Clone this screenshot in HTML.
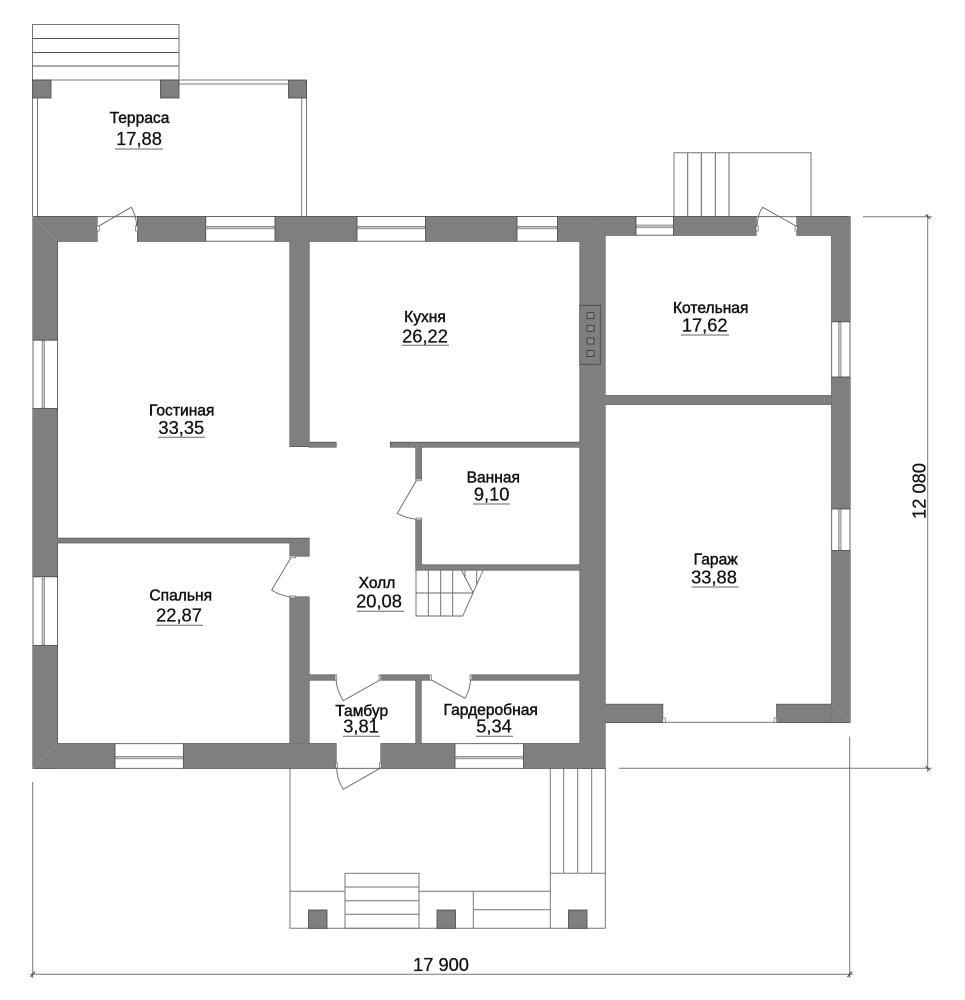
<!DOCTYPE html>
<html lang="ru">
<head>
<meta charset="utf-8">
<title>План этажа</title>
<style>
html,body{margin:0;padding:0;background:#fff;width:965px;height:1000px;overflow:hidden}
svg{display:block}
.t{font-family:"Liberation Sans",Arial,sans-serif;fill:#111;text-anchor:middle;stroke:#111}
.n{font-size:15.6px;stroke-width:.45px}
.a{font-size:18.3px;stroke-width:.25px}
.l{stroke:#555;stroke-width:1;fill:none}
.g{stroke:#777;stroke-width:1;fill:none}
.d{stroke:#666;stroke-width:.9;fill:none}
.u{stroke:#666;stroke-width:1}
.f{fill:#fff;stroke:#666;stroke-width:.7}
.win{fill:#fff;stroke:#444;stroke-width:.8}
.mul{fill:#c4c4c4;stroke:#777;stroke-width:.6}
.dg{stroke:#8e8e8e;stroke-width:.8}
</style>
</head>
<body>
<svg width="965" height="1000" viewBox="0 0 965 1000" xmlns="http://www.w3.org/2000/svg">
<rect width="965" height="1000" fill="#fff"/>

<!-- Terrace -->
<g class="g">
<rect x="32.5" y="24.5" width="146.5" height="55.5"/>
<path d="M32.5 38.5H179M32.5 52.5H179M32.5 66H179" stroke="#555"/>
<path d="M179 80H288M179 84H288"/>
<path d="M32.5 98V216M37.5 98V216M301.7 98V216M306.5 98V216"/>
</g>
<g fill="#7f7f7f" stroke="#444" stroke-width=".8">
<rect x="32.5" y="80" width="18.5" height="18"/>
<rect x="160.5" y="80" width="18.5" height="18"/>
<rect x="288.5" y="80" width="18" height="18"/>
</g>

<!-- Rear steps -->
<g class="g">
<path d="M674 216V152.7H811V216"/>
<path d="M687.7 152.7V216M701.3 152.7V216M715.3 152.7V216M729 152.7V216" stroke="#666"/>
</g>

<!-- Front porch -->
<g class="g">
<path d="M290 768V928.3H605.3V768"/>
<path d="M290 891.3H345M419 891.3H550"/>
<rect x="345" y="873.3" width="74" height="55"/>
<path d="M345 887H419M345 900.7H419M345 914.3H419"/>
<path d="M473.3 891.3V928.3M473.3 909.7H550"/>
<path d="M550.3 768V928.3M563.7 768V873.3M577.7 768V873.3M591.7 768V873.3M550.3 873.3H605.3"/>
</g>
<g fill="#7f7f7f" stroke="#444" stroke-width=".8">
<rect x="308.5" y="910" width="18.5" height="18.3"/>
<rect x="437" y="910" width="18.5" height="18.3"/>
<rect x="568.5" y="910" width="18.5" height="18.3"/>
</g>

<!-- Walls -->
<defs>
<g id="w">
<rect x="33" y="216.5" width="64" height="24.7"/>
<rect x="137.5" y="216.5" width="68.3" height="24.7"/>
<rect x="275" y="216.5" width="82" height="24.7"/>
<rect x="425.5" y="216.5" width="91.5" height="24.7"/>
<rect x="557.5" y="216.5" width="47.5" height="24.7"/>
<rect x="605" y="216.5" width="31" height="18.7"/>
<rect x="673.5" y="216.5" width="82.5" height="18.7"/>
<rect x="797" y="216.5" width="53" height="18.7"/>
<rect x="831.7" y="216.5" width="18.3" height="105.3"/>
<rect x="831.7" y="377" width="18.3" height="132"/>
<rect x="831.7" y="550.5" width="18.3" height="172"/>
<rect x="33" y="216.5" width="24.5" height="123.7"/>
<rect x="33" y="408.5" width="24.5" height="168.3"/>
<rect x="33" y="645.5" width="24.5" height="122.8"/>
<rect x="33" y="743.7" width="82" height="24.6"/>
<rect x="183.5" y="743.7" width="152.5" height="24.6"/>
<rect x="381" y="743.7" width="74" height="24.6"/>
<rect x="523.5" y="743.7" width="81.5" height="24.6"/>
<rect x="580" y="216.5" width="25" height="551.8"/>
<rect x="290" y="241" width="19" height="205.5"/>
<rect x="309" y="442.3" width="27" height="4.7"/>
<rect x="390.5" y="442.3" width="189.5" height="4.7"/>
<rect x="416" y="447" width="5.3" height="32.5"/>
<rect x="416" y="519.3" width="5.3" height="50.7"/>
<rect x="416" y="565" width="164" height="5"/>
<rect x="57.5" y="538.3" width="232.5" height="4.5"/>
<rect x="290" y="538.3" width="19" height="17.7"/>
<rect x="290" y="597" width="19" height="146.7"/>
<rect x="309" y="675" width="27" height="5"/>
<rect x="380" y="675" width="50" height="5"/>
<rect x="471" y="675" width="109" height="5"/>
<rect x="416" y="680" width="5" height="63.7"/>
<rect x="605" y="395.7" width="226.7" height="8.6"/>
<rect x="605" y="704.3" width="57.7" height="18.2"/>
<rect x="776.7" y="704.3" width="55" height="18.2"/>
</g>
</defs>
<use href="#w" fill="#3a3a3a" stroke="#3a3a3a" stroke-width="1"/>
<use href="#w" fill="#7f7f7f"/>

<!-- Corner mitres -->
<g class="dg">
<path d="M33 216.5L57.5 241.2"/>
<path d="M33 768.3L57.5 743.7"/>
<path d="M605 216.5L580 241.2"/>
<path d="M605 768.3L580 743.7"/>
<path d="M850 216.5L831.7 235.2"/>
<path d="M850 722.5L831.7 704.3"/>
</g>

<!-- Windows horizontal -->
<g>
<rect class="win" x="205.8" y="216.5" width="69.2" height="24.7"/>
<rect class="mul" x="207" y="226.3" width="67" height="2.6"/>
<rect class="win" x="357" y="216.5" width="68.5" height="24.7"/>
<rect class="mul" x="358" y="226.3" width="66.5" height="2.6"/>
<rect class="win" x="517" y="216.5" width="40.5" height="24.7"/>
<rect class="mul" x="518" y="226.3" width="38.5" height="2.6"/>
<rect class="win" x="636" y="216.5" width="37.5" height="18.7"/>
<rect class="mul" x="636.5" y="225" width="36.5" height="2.6"/>
<rect class="win" x="115" y="743.7" width="68.5" height="24.6"/>
<rect class="mul" x="116" y="756.3" width="66.5" height="2.6"/>
<rect class="win" x="455" y="743.7" width="68.5" height="24.6"/>
<rect class="mul" x="456" y="756.3" width="66.5" height="2.6"/>
</g>
<!-- Windows vertical -->
<g>
<rect class="win" x="33" y="340.2" width="24.5" height="68.3"/>
<rect class="mul" x="42" y="341" width="2.6" height="66.5"/>
<rect class="win" x="33" y="576.8" width="24.5" height="68.7"/>
<rect class="mul" x="42" y="578" width="2.6" height="66.5"/>
<rect class="win" x="831.7" y="321.8" width="18.3" height="55.2"/>
<rect class="mul" x="838.5" y="322.5" width="2.6" height="54"/>
<rect class="win" x="831.7" y="509" width="18.3" height="41.5"/>
<rect class="mul" x="838.5" y="510" width="2.6" height="40"/>
</g>

<!-- Chimney -->
<rect x="579.7" y="305.3" width="20.6" height="59" fill="#7f7f7f" stroke="#444" stroke-width=".8"/>
<g fill="#8a8a8a" stroke="#333" stroke-width=".8">
<rect x="587" y="312.7" width="7" height="5.8"/>
<rect x="587" y="325.3" width="7" height="6"/>
<rect x="587" y="338" width="7" height="6"/>
<rect x="587" y="350.5" width="7" height="6"/>
</g>

<!-- Doors -->
<g class="d">
<path d="M97.7 226.7L131 207.3Q136 214 136.7 226.7"/>
<path d="M97 216.7H137.5" stroke="#555"/>
<path d="M796 226L762.7 207.3Q757.5 214 757 226"/>
<path d="M756 216.7H797" stroke="#555"/>
<path d="M416.7 480L397.3 513.3Q405 518 416 519.3"/>
<path d="M290.7 558L271.7 590Q279 595 290 597"/>
<path d="M380 680L343.3 700.7Q337 691 336 680"/>
<path d="M430 679.3L465 698.3Q470 690 470.5 680"/>
<path d="M380 768.3L343.3 789.3Q337 780 336.7 768.3"/>
<path d="M336 768.3H381" stroke="#555"/>
<path d="M662.7 722.3H776.7" stroke="#888" stroke-width="1.2"/>
</g>
<g class="f">
<rect x="97" y="226" width="2.3" height="5"/>
<rect x="135.4" y="226" width="2.3" height="5"/>
<rect x="756" y="226" width="2.2" height="5"/>
<rect x="795" y="226" width="2.2" height="5"/>
<rect x="416" y="479" width="5.3" height="1.8"/>
<rect x="416" y="518" width="5.3" height="1.8"/>
<rect x="290" y="556" width="5.5" height="1.8"/>
<rect x="290" y="596" width="5.5" height="1.8"/>
<rect x="335" y="675" width="1.8" height="5"/>
<rect x="379" y="675" width="1.8" height="5"/>
<rect x="429.5" y="675" width="1.8" height="5"/>
<rect x="470" y="675" width="1.8" height="5"/>
<rect x="335.8" y="763" width="1.8" height="5"/>
<rect x="379.3" y="763" width="1.8" height="5"/>
<rect x="662.7" y="718" width="2.6" height="4.5"/>
<rect x="774.1" y="718" width="2.6" height="4.5"/>
</g>

<!-- Stairs -->
<g class="d" stroke="#555">
<path d="M416 570V616H462.7L483.3 570"/>
<path d="M428.3 570V616M440.7 570V616M452.7 570V616"/>
<path d="M416 593H473.3"/>
<path d="M461.3 570L473.3 593"/>
<path d="M465 570V578M476.7 570V585"/>
</g>

<!-- Dimensions -->
<g stroke="#777" stroke-width="1" fill="none">
<path d="M619 768.3H932"/>
<path d="M863 216.7H932"/>
<path d="M927.7 214V772"/>
<path d="M849.7 736.7V978"/>
<path d="M32.7 782V978"/>
<path d="M30 974.3H853"/>
</g>
<g stroke="#444" stroke-width="1">
<path d="M925.5 214.5L930 219"/>
<path d="M925.5 766L930 770.5"/>
<path d="M847.5 977L852 971.5"/>
<path d="M30.5 977L35 971.5"/>
</g>

<!-- Underlines -->
<g class="u">
<path d="M115 149H163"/>
<path d="M401.7 345.3H449"/>
<path d="M158 437.3H205"/>
<path d="M681 335H729"/>
<path d="M473 504H510"/>
<path d="M356.7 611.3H404"/>
<path d="M155.7 625.3H203"/>
<path d="M691.5 587H738.7"/>
<path d="M343 736.3H380"/>
<path d="M476 736.3H513"/>
</g>

<!-- Labels -->
<text class="t n" x="139.5" y="123">Терраса</text>
<text class="t a" x="139" y="145">17,88</text>
<text class="t n" x="425" y="322">Кухня</text>
<text class="t a" x="425" y="342.5">26,22</text>
<text class="t n" x="181.7" y="415.7">Гостиная</text>
<text class="t a" x="181.3" y="434">33,35</text>
<text class="t n" x="710.7" y="313">Котельная</text>
<text class="t a" x="704.7" y="331.5">17,62</text>
<text class="t n" x="493.3" y="482.3">Ванная</text>
<text class="t a" x="491.7" y="500.3">9,10</text>
<text class="t n" x="377" y="588">Холл</text>
<text class="t a" x="379" y="607.5">20,08</text>
<text class="t n" x="180.7" y="600.7">Спальня</text>
<text class="t a" x="179" y="621.5">22,87</text>
<text class="t n" x="715.7" y="564.3">Гараж</text>
<text class="t a" x="714" y="583.3">33,88</text>
<text class="t n" x="361.7" y="716">Тамбур</text>
<text class="t a" x="361" y="732.7">3,81</text>
<text class="t n" x="490.7" y="715">Гардеробная</text>
<text class="t a" x="494" y="732.7">5,34</text>
<text class="t a" x="441" y="971">17 900</text>
<text class="t a" transform="translate(925.5 491) rotate(-90)" x="0" y="0">12 080</text>
</svg>
</body>
</html>
